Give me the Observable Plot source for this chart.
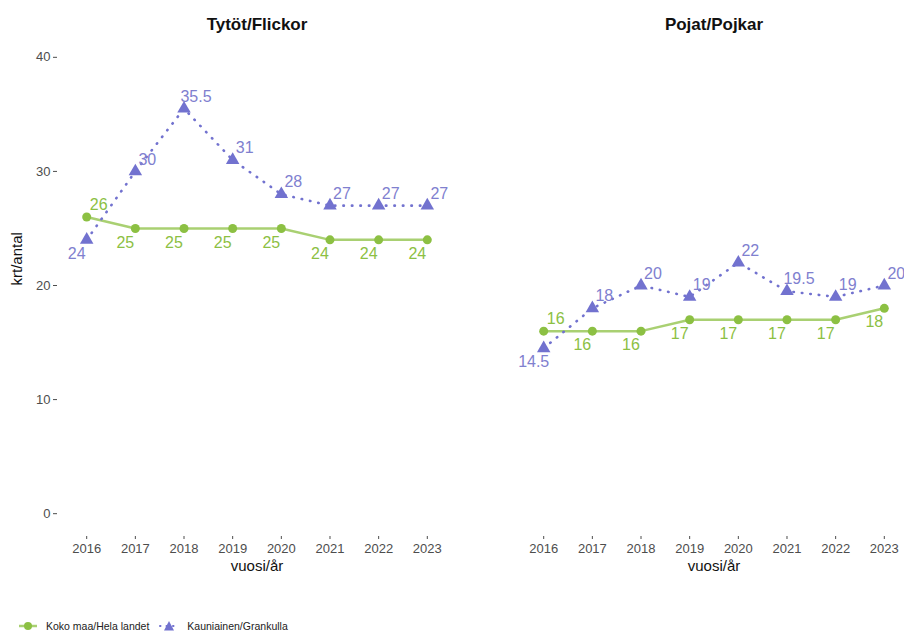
<!DOCTYPE html>
<html>
<head>
<meta charset="utf-8">
<script src="https://cdn.jsdelivr.net/npm/d3@7"></script>
<script src="https://cdn.jsdelivr.net/npm/@observablehq/plot@0.6"></script>
<style>
  body { margin: 0; background: #fff; font-family: "Liberation Sans", Arial, sans-serif; }
  #legend { height: 24px; padding-top: 24px; display: flex; align-items: center; padding-left: 18px; font-size: 10.5px; color: #222; }
  #legend .item { display: flex; align-items: center; margin-right: 10px; }
  #legend svg { margin-right: 8px; }
</style>
</head>
<body>
<div id="chart"></div>
<div id="legend"></div>
<script>
const years = [2016, 2017, 2018, 2019, 2020, 2021, 2022, 2023];
const facets = ["Tytöt/Flickor", "Pojat/Pojkar"];
const seriesNames = ["Koko maa/Hela landet", "Kauniainen/Grankulla"];
const girlsNational = [26, 25, 25, 25, 25, 24, 24, 24];
const girlsKauniainen = [24, 30, 35.5, 31, 28, 27, 27, 27];
const boysNational = [16, 16, 16, 17, 17, 17, 17, 18];
const boysKauniainen = [14.5, 18, 20, 19, 22, 19.5, 19, 20];
const yTicks = [0, 10, 20, 30, 40];

const green = "#8cc043";
const purple = "#7272cf";
const purpleText = "#8080cf";

const rows = [];
function add(facet, series, vals, other) {
  vals.forEach((v, i) => rows.push({facet, series, year: years[i], value: v, above: v >= other[i]}));
}
add(facets[0], seriesNames[0], girlsNational, girlsKauniainen);
add(facets[0], seriesNames[1], girlsKauniainen, girlsNational);
add(facets[1], seriesNames[0], boysNational, boysKauniainen);
add(facets[1], seriesNames[1], boysKauniainen, boysNational);

const nat = rows.filter(d => d.series === seriesNames[0]);
const kau = rows.filter(d => d.series === seriesNames[1]);

const chart = Plot.plot({
  width: 904,
  height: 590,
  marginLeft: 56,
  marginRight: -10,
  marginTop: 34,
  marginBottom: 54,
  style: {fontFamily: "'Liberation Sans', Arial, sans-serif", background: "#fff"},
  fx: {domain: facets, paddingInner: 0.1266, paddingOuter: 0, axis: null},
  x: {domain: [2015.4, 2023.6]},
  y: {domain: [-2, 42]},
  color: {domain: seriesNames, range: [green, purpleText]},
  marks: [
    Plot.axisY({ticks: yTicks, tickSize: 4, tickPadding: 3, fontSize: 13, label: null, color: "#4d4d4d"}),
    Plot.axisX({ticks: years, tickFormat: "d", tickSize: 3, tickPadding: 4, fontSize: 13, label: null, color: "#4d4d4d"}),
    Plot.text(facets, {fx: d => d, text: d => d, frameAnchor: "top", dy: -17, fontSize: 17, fontWeight: "bold", fill: "#111"}),
    Plot.text(facets, {fx: d => d, text: () => "vuosi/år", frameAnchor: "bottom", dy: 34, fontSize: 15, fill: "#111"}),
    Plot.text(["krt/antal"], {fx: () => facets[0], text: d => d, frameAnchor: "left", rotate: -90, dx: -40, fontSize: 15, fill: "#111"}),
    Plot.line(nat, {fx: "facet", x: "year", y: "value", stroke: green, strokeWidth: 2.5, strokeOpacity: 0.75}),
    Plot.line(kau, {fx: "facet", x: "year", y: "value", stroke: purple, strokeWidth: 2.6, strokeDasharray: "0.5,8", strokeLinecap: "round"}),
    Plot.dot(nat, {fx: "facet", x: "year", y: "value", fill: green, r: 4.5}),
    Plot.dot(kau, {fx: "facet", x: "year", y: "value", fill: purple, r: 5, symbol: "triangle"}),
    Plot.text(rows.filter(d => d.above), {fx: "facet", x: "year", y: "value", text: d => String(d.value), fill: "series", fontSize: 16, dx: 12, dy: -12}),
    Plot.text(rows.filter(d => !d.above), {fx: "facet", x: "year", y: "value", text: d => String(d.value), fill: "series", fontSize: 16, dx: -10, dy: 14})
  ]
});
document.getElementById("chart").appendChild(chart);

const legend = document.getElementById("legend");
legend.innerHTML = `
  <div class="item"><svg width="20" height="14"><line x1="1" y1="7" x2="19" y2="7" stroke="${green}" stroke-width="2.5" stroke-opacity="0.75"/><circle cx="10" cy="7" r="4" fill="${green}"/></svg><span>${seriesNames[0]}</span></div>
  <div class="item"><svg width="20" height="14"><line x1="1" y1="7" x2="19" y2="7" stroke="${purple}" stroke-width="2" stroke-dasharray="0.5,6" stroke-linecap="round"/><path d="M10,2 L15,11.5 L5,11.5 Z" fill="${purple}"/></svg><span>${seriesNames[1]}</span></div>
`;
</script>
</body>
</html>
